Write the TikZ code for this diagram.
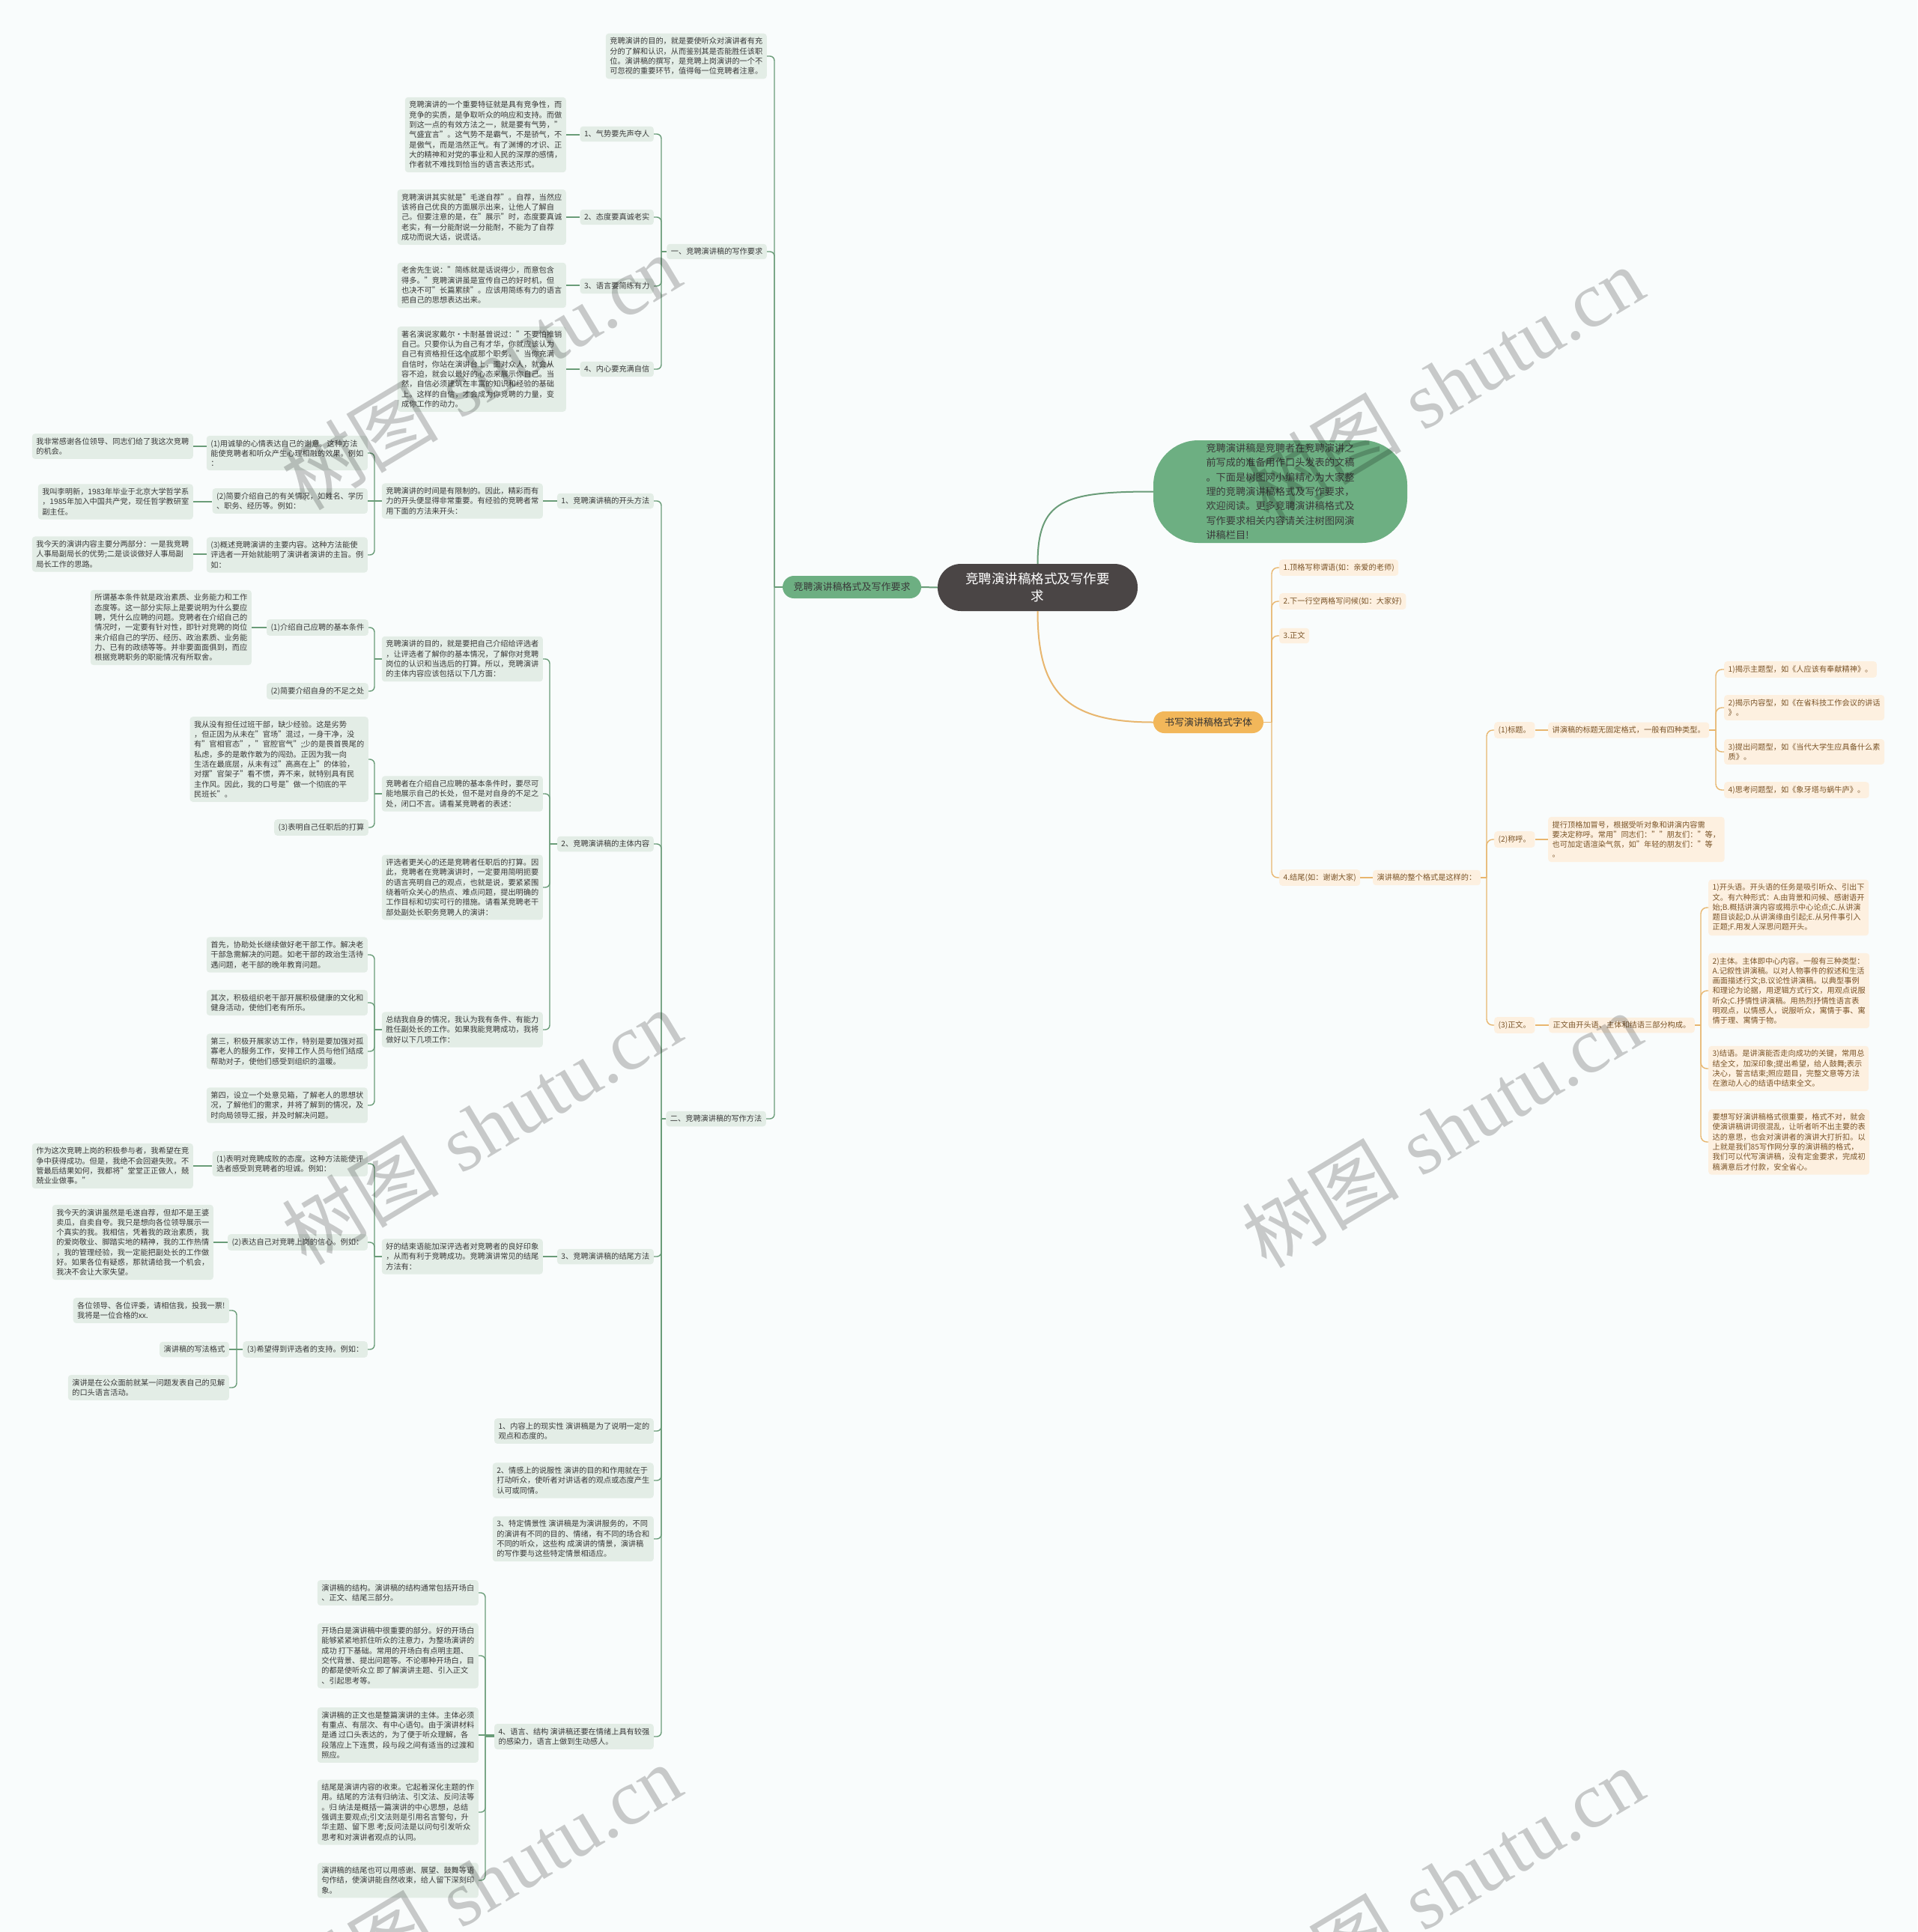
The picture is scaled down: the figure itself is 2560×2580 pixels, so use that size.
\documentclass[tikz,border=0pt]{standalone}
\usepackage{fontspec}
\setmainfont{Noto Sans CJK SC}
\newfontfamily\wmlatin{Liberation Serif}
\definecolor{bgc}{HTML}{F9FCFC}
\definecolor{gfill}{HTML}{E3EDE6}
\definecolor{gtext}{HTML}{3A3A3A}
\definecolor{gline}{HTML}{6A9C78}
\definecolor{ofill}{HTML}{FDF0E0}
\definecolor{otext}{HTML}{7A5428}
\definecolor{oline}{HTML}{E8B66E}
\definecolor{rootc}{HTML}{4A4545}
\definecolor{greenc}{HTML}{6DAF82}
\definecolor{orangec}{HTML}{F2B75A}
\newcommand\fs{\fontsize{10.2}{13.3}\selectfont}
\newcommand\lconn[3]{\draw[gl] (#1.west) -- (#1.west -| #3);\draw[gl,rounded corners=6] (#1.west -| #3) |- (#2.east);}
\newcommand\lstr[2]{\draw[gl] (#2.east) -- (#1.west |- #2.east);}
\newcommand\rconn[3]{\draw[ol] (#1.east) -- (#1.east -| #3);\draw[ol,rounded corners=8] (#1.east -| #3) |- (#2.west);}
\newcommand\rstr[2]{\draw[ol] (#1.east) -- (#2.west |- #1.east);}
\tikzset{
 gbox/.style={fill=gfill, text=gtext, rounded corners=4, inner sep=5.5, align=left, font=\fs, anchor=east},
 obox/.style={fill=ofill, text=otext, rounded corners=4, inner sep=5.5, align=left, font=\fs, anchor=west},
 gl/.style={draw=gline, line width=1.4},
 ol/.style={draw=oline, line width=1.4},
 wm/.style={text=black, text opacity=0.2, rotate=31, font=\fontsize{105}{105}\selectfont, inner sep=0},
}
\begin{document}
\begin{tikzpicture}[x=1pt,y=-1pt]
\fill[bgc] (0,0) rectangle (2560,2580);
\useasboundingbox (0,0) rectangle (2560,2580);

\coordinate (mbar) at (1034,0);
\coordinate (bA) at (883,0);
\coordinate (b500) at (500,0);
\coordinate (b734) at (734,0);
\coordinate (b316) at (316,0);
\coordinate (b648) at (648,0);
\coordinate (rb1) at (1698,0);
\coordinate (rb2) at (1985,0);
\coordinate (rb3) at (2291,0);
\coordinate (rb4) at (2271,0);

% central part
\node[fill=rootc, text=white, rounded corners=31, minimum width=267, minimum height=63, inner sep=0, align=center, font=\fontsize{17.5}{23}\selectfont] (root) at (1385.5,784.5) {竞聘演讲稿格式及写作要\\求};
\node[fill=greenc, text=gtext, rounded corners=60, minimum width=339, minimum height=137, inner sep=0, align=left, font=\fontsize{13.2}{19.4}\selectfont] (bubble) at (1709.5,656.5) {竞聘演讲稿是竞聘者在竞聘演讲之\\前写成的准备用作口头发表的文稿\\。下面是树图网小编精心为大家整\\理的竞聘演讲稿格式及写作要求，\\欢迎阅读。更多竞聘演讲稿格式及\\写作要求相关内容请关注树图网演\\讲稿栏目!};
\node[fill=greenc, text=gtext, rounded corners=15, minimum width=185, minimum height=30, inner sep=0, font=\fontsize{13}{16}\selectfont] (main) at (1137.5,784) {竞聘演讲稿格式及写作要求};
\node[fill=orangec, text=black!80, rounded corners=14.5, minimum width=147, minimum height=29, inner sep=0, font=\fontsize{13}{16}\selectfont] (orn) at (1613.5,964.5) {书写演讲稿格式字体};

\draw[gl, line width=2] (root.west) -- (main.east);
\draw[gl, line width=2] (root.north) .. controls +(0,-85) and +(-120,0) .. (bubble.west);
\draw[ol, line width=2] (root.south) .. controls +(0,105) and +(-120,0) .. (orn.west);

% left tree
\node[gbox] (top) at (1024,75) {竞聘演讲的目的，就是要使听众对演讲者有充\\分的了解和认识，从而鉴别其是否能胜任该职\\位。演讲稿的撰写，是竞聘上岗演讲的一个不\\可忽视的重要环节，值得每一位竞聘者注意。};
\node[gbox] (yi) at (1024,336) {一、竞聘演讲稿的写作要求};
\node[gbox] (er) at (1023,1494) {二、竞聘演讲稿的写作方法};

\node[gbox] (a1) at (873,179) {1、气势要先声夺人};
\node[gbox] (a2) at (873,290) {2、态度要真诚老实};
\node[gbox] (a3) at (873,382) {3、语言要简练有力};
\node[gbox] (a4) at (873,493) {4、内心要充满自信};

\node[gbox] (t1) at (756,180) {竞聘演讲的一个重要特征就是具有竞争性，而\\竞争的实质，是争取听众的响应和支持。而做\\到这一点的有效方法之一，就是要有气势，"\\气盛宜言"。这气势不是霸气，不是骄气，不\\是傲气，而是浩然正气。有了渊博的才识、正\\大的精神和对党的事业和人民的深厚的感情，\\作者就不难找到恰当的语言表达形式。};
\node[gbox] (t2) at (756,290) {竞聘演讲其实就是"毛遂自荐"。自荐，当然应\\该将自己优良的方面展示出来，让他人了解自\\己。但要注意的是，在"展示"时，态度要真诚\\老实，有一分能耐说一分能耐，不能为了自荐\\成功而说大话，说谎话。};
\node[gbox] (t3) at (756,381) {老舍先生说："简练就是话说得少，而意包含\\得多。"竞聘演讲虽是宣传自己的好时机，但\\也决不可"长篇累牍"。应该用简练有力的语言\\把自己的思想表达出来。};
\node[gbox] (t4) at (756,493) {著名演说家戴尔·卡耐基曾说过："不要怕推销\\自己。只要你认为自己有才华，你就应该认为\\自己有资格担任这个或那个职务。"当你充满\\自信时，你站在演讲台上，面对众人，就会从\\容不迫，就会以最好的心态来展示你自己。当\\然，自信必须建筑在丰富的知识和经验的基础\\上。这样的自信，才会成为你竞聘的力量，变\\成你工作的动力。};

\node[gbox] (b1) at (873,669) {1、竞聘演讲稿的开头方法};
\node[gbox] (b2) at (873,1127) {2、竞聘演讲稿的主体内容};
\node[gbox] (b3) at (873,1678) {3、竞聘演讲稿的结尾方法};
\node[gbox] (b4) at (873,1911) {1、内容上的现实性 演讲稿是为了说明一定的\\观点和态度的。};
\node[gbox] (b5) at (873,1977) {2、情感上的说服性 演讲的目的和作用就在于\\打动听众，使听者对讲话者的观点或态度产生\\认可或同情。};
\node[gbox] (b6) at (873,2055) {3、特定情景性 演讲稿是为演讲服务的，不同\\的演讲有不同的目的、情绪，有不同的场合和\\不同的听众，这些构 成演讲的情景，演讲稿\\的写作要与这些特定情景相适应。};
\node[gbox] (b7) at (873,2319) {4、语言、结构 演讲稿还要在情绪上具有较强\\的感染力，语言上做到生动感人。};

\node[gbox] (c1) at (725,669) {竞聘演讲的时间是有限制的。因此，精彩而有\\力的开头便显得非常重要。有经验的竞聘者常\\用下面的方法来开头：};
\node[gbox] (d1) at (491,605) {(1)用诚挚的心情表达自己的谢意。这种方法\\能使竞聘者和听众产生心理相融的效果。例如\\：};
\node[gbox] (d2) at (491,669) {(2)简要介绍自己的有关情况，如姓名、学历\\、职务、经历等。例如：};
\node[gbox] (d3) at (491,741) {(3)概述竞聘演讲的主要内容。这种方法能使\\评选者一开始就能明了演讲者演讲的主旨。例\\如：};
\node[gbox] (e1) at (258,596) {我非常感谢各位领导、同志们给了我这次竞聘\\的机会。};
\node[gbox] (e2) at (258,670) {我叫李明新，1983年毕业于北京大学哲学系\\，1985年加入中国共产党，现任哲学教研室\\副主任。};
\node[gbox] (e3) at (258,740) {我今天的演讲内容主要分两部分：一是我竞聘\\人事局副局长的优势;二是谈谈做好人事局副\\局长工作的思路。};

\node[gbox] (f1) at (725,880) {竞聘演讲的目的，就是要把自己介绍给评选者\\，让评选者了解你的基本情况，了解你对竞聘\\岗位的认识和当选后的打算。所以，竞聘演讲\\的主体内容应该包括以下几方面：};
\node[gbox] (f2) at (725,1060) {竞聘者在介绍自己应聘的基本条件时，要尽可\\能地展示自己的长处，但不是对自身的不足之\\处，闭口不言。请看某竞聘者的表述：};
\node[gbox] (f3) at (725,1185) {评选者更关心的还是竞聘者任职后的打算。因\\此，竞聘者在竞聘演讲时，一定要用简明扼要\\的语言亮明自己的观点，也就是说，要紧紧围\\绕着听众关心的热点、难点问题，提出明确的\\工作目标和切实可行的措施。请看某竞聘老干\\部处副处长职务竞聘人的演讲：};
\node[gbox] (f4) at (725,1375) {总结我自身的情况，我认为我有条件、有能力\\胜任副处长的工作。如果我能竞聘成功，我将\\做好以下几项工作：};
\node[gbox] (g1) at (492,838) {(1)介绍自己应聘的基本条件};
\node[gbox] (g2) at (492,923) {(2)简要介绍自身的不足之处};
\node[gbox] (g3) at (492,1014) {我从没有担任过班干部，缺少经验。这是劣势\\，但正因为从未在"官场"混过，一身干净，没\\有"官相官态"，"官腔官气";少的是畏首畏尾的\\私虑，多的是敢作敢为的闯劲。正因为我一向\\生活在最底层，从未有过"高高在上"的体验，\\对摆"官架子"看不惯，弄不来，就特别具有民\\主作风。因此，我的口号是"做一个彻底的平\\民班长"。};
\node[gbox] (g4) at (492,1105) {(3)表明自己任职后的打算};
\node[gbox] (h1) at (336,838) {所谓基本条件就是政治素质、业务能力和工作\\态度等。这一部分实际上是要说明为什么要应\\聘，凭什么应聘的问题。竞聘者在介绍自己的\\情况时，一定要有针对性，即针对竞聘的岗位\\来介绍自己的学历、经历、政治素质、业务能\\力、已有的政绩等等。并非要面面俱到，而应\\根据竞聘职务的职能情况有所取舍。};
\node[gbox] (k1) at (491,1275) {首先，协助处长继续做好老干部工作。解决老\\干部急需解决的问题。如老干部的政治生活待\\遇问题，老干部的晚年教育问题。};
\node[gbox] (k2) at (491,1339) {其次，积极组织老干部开展积极健康的文化和\\健身活动，使他们老有所乐。};
\node[gbox] (k3) at (491,1404) {第三，积极开展家访工作，特别是要加强对孤\\寡老人的服务工作，安排工作人员与他们结成\\帮助对子，使他们感受到组织的温暖。};
\node[gbox] (k4) at (491,1476) {第四，设立一个处意见箱，了解老人的思想状\\况，了解他们的需求，并将了解到的情况，及\\时向局领导汇报，并及时解决问题。};

\node[gbox] (m1) at (725,1678) {好的结束语能加深评选者对竞聘者的良好印象\\，从而有利于竞聘成功。竞聘演讲常见的结尾\\方法有：};
\node[gbox] (n1) at (491,1554) {(1)表明对竞聘成败的态度。这种方法能使评\\选者感受到竞聘者的坦诚。例如：};
\node[gbox] (n2) at (491,1659) {(2)表达自己对竞聘上岗的信心。例如：};
\node[gbox] (n3) at (491,1802) {(3)希望得到评选者的支持。例如：};
\node[gbox] (o1) at (258,1557) {作为这次竞聘上岗的积极参与者，我希望在竞\\争中获得成功。但是，我绝不会回避失败。不\\管最后结果如何，我都将"堂堂正正做人，兢\\兢业业做事。"};
\node[gbox] (o2) at (285,1659) {我今天的演讲虽然是毛遂自荐，但却不是王婆\\卖瓜，自卖自夸。我只是想向各位领导展示一\\个真实的我。我相信，凭着我的政治素质，我\\的爱岗敬业、脚踏实地的精神，我的工作热情\\，我的管理经验，我一定能把副处长的工作做\\好。如果各位有疑惑，那就请给我一个机会，\\我决不会让大家失望。};
\node[gbox] (p1) at (306,1750) {各位领导、各位评委，请相信我，投我一票!\\我将是一位合格的xx.};
\node[gbox] (p2) at (306,1802) {演讲稿的写法格式};
\node[gbox] (p3) at (306,1853) {演讲是在公众面前就某一问题发表自己的见解\\的口头语言活动。};

\node[gbox] (q1) at (639,2127) {演讲稿的结构。演讲稿的结构通常包括开场白\\、正文、结尾三部分。};
\node[gbox] (q2) at (639,2211) {开场白是演讲稿中很重要的部分。好的开场白\\能够紧紧地抓住听众的注意力，为整场演讲的\\成功 打下基础。常用的开场白有点明主题、\\交代背景、提出问题等。不论哪种开场白，目\\的都是使听众立 即了解演讲主题、引入正文\\、引起思考等。};
\node[gbox] (q3) at (639,2317) {演讲稿的正文也是整篇演讲的主体。主体必须\\有重点、有层次、有中心语句。由于演讲材料\\是通 过口头表达的，为了便于听众理解，各\\段落应上下连贯，段与段之间有适当的过渡和\\照应。};
\node[gbox] (q4) at (639,2420) {结尾是演讲内容的收束。它起着深化主题的作\\用。结尾的方法有归纳法、引文法、反问法等\\。归 纳法是概括一篇演讲的中心思想，总结\\强调主要观点;引文法则是引用名言警句，升\\华主题、留下思 考;反问法是以问句引发听众\\思考和对演讲者观点的认同。};
\node[gbox] (q5) at (639,2511) {演讲稿的结尾也可以用感谢、展望、鼓舞等语\\句作结，使演讲能自然收束，给人留下深刻印\\象。};

% left connectors
\lconn{main}{top}{mbar}
\lconn{main}{yi}{mbar}
\lconn{main}{er}{mbar}
\lconn{yi}{a1}{bA}
\lconn{yi}{a2}{bA}
\lconn{yi}{a3}{bA}
\lconn{yi}{a4}{bA}
\lstr{a1}{t1}
\lstr{a2}{t2}
\lstr{a3}{t3}
\lstr{a4}{t4}
\lconn{er}{b1}{bA}
\lconn{er}{b2}{bA}
\lconn{er}{b3}{bA}
\lconn{er}{b4}{bA}
\lconn{er}{b5}{bA}
\lconn{er}{b6}{bA}
\lconn{er}{b7}{bA}
\lstr{b1}{c1}
\lconn{c1}{d1}{b500}
\lstr{c1}{d2}
\lconn{c1}{d3}{b500}
\lstr{d1}{e1}
\lstr{d2}{e2}
\lstr{d3}{e3}
\lconn{b2}{f1}{b734}
\lconn{b2}{f2}{b734}
\lconn{b2}{f3}{b734}
\lconn{b2}{f4}{b734}
\lconn{f1}{g1}{b500}
\lconn{f1}{g2}{b500}
\lstr{g1}{h1}
\lconn{f2}{g3}{b500}
\lconn{f2}{g4}{b500}
\lconn{f4}{k1}{b500}
\lconn{f4}{k2}{b500}
\lconn{f4}{k3}{b500}
\lconn{f4}{k4}{b500}
\lstr{b3}{m1}
\lconn{m1}{n1}{b500}
\lconn{m1}{n2}{b500}
\lconn{m1}{n3}{b500}
\lstr{n1}{o1}
\lstr{n2}{o2}
\lconn{n3}{p1}{b316}
\lstr{n3}{p2}
\lconn{n3}{p3}{b316}
\lconn{b7}{q1}{b648}
\lconn{b7}{q2}{b648}
\lstr{b7}{q3}
\lconn{b7}{q4}{b648}
\lconn{b7}{q5}{b648}

% right tree
\node[obox] (R1) at (1708,758) {1.顶格写称谓语(如：亲爱的老师)};
\node[obox] (R2) at (1708,803) {2.下一行空两格写问候(如：大家好)};
\node[obox] (R3) at (1708,849) {3.正文};
\node[obox] (R4) at (1708,1172) {4.结尾(如：谢谢大家)};
\node[obox] (S) at (1833,1172) {演讲稿的整个格式是这样的：};
\node[obox] (T1) at (1995,975) {(1)标题。};
\node[obox] (T2) at (1995,1121) {(2)称呼。};
\node[obox] (T3) at (1995,1369) {(3)正文。};
\node[obox] (U1) at (2067,975) {讲演稿的标题无固定格式，一般有四种类型。};
\node[obox] (U2) at (2067,1121) {提行顶格加冒号，根据受听对象和讲演内容需\\要决定称呼。常用"同志们：""朋友们："等，\\也可加定语渲染气氛，如"年轻的朋友们："等\\。};
\node[obox] (U3) at (2068,1369) {正文由开头语、主体和结语三部分构成。};
\node[obox] (V1) at (2302,894) {1)揭示主题型，如《人应该有奉献精神》。};
\node[obox] (V2) at (2302,945) {2)揭示内容型，如《在省科技工作会议的讲话\\》。};
\node[obox] (V3) at (2302,1004) {3)提出问题型，如《当代大学生应具备什么素\\质》。};
\node[obox] (V4) at (2302,1055) {4)思考问题型，如《象牙塔与蜗牛庐》。};
\node[obox] (W1) at (2281,1212) {1)开头语。开头语的任务是吸引听众、引出下\\文。有六种形式：A.由背景和问候、感谢语开\\始;B.概括讲演内容或揭示中心论点;C.从讲演\\题目谈起;D.从讲演缘由引起;E.从另件事引入\\正题;F.用发人深思问题开头。};
\node[obox] (W2) at (2281,1323) {2)主体。主体即中心内容。一般有三种类型：\\A.记叙性讲演稿。以对人物事件的叙述和生活\\画面描述行文;B.议论性讲演稿。以典型事例\\和理论为论据，用逻辑方式行文，用观点说服\\听众;C.抒情性讲演稿。用热烈抒情性语言表\\明观点，以情感人，说服听众，寓情于事、寓\\情于理、寓情于物。};
\node[obox] (W3) at (2281,1427) {3)结语。是讲演能否走向成功的关键，常用总\\结全文，加深印象;提出希望，给人鼓舞;表示\\决心，誓言结束;照应题目，完整文意等方法\\在激动人心的结语中结束全文。};
\node[obox] (W4) at (2281,1525) {要想写好演讲稿格式很重要，格式不对，就会\\使演讲稿讲词很混乱，让听者听不出主要的表\\达的意思，也会对演讲者的演讲大打折扣。以\\上就是我们85写作网分享的演讲稿的格式，\\我们可以代写演讲稿，没有定金要求，完成初\\稿满意后才付款，安全省心。};

\rconn{orn}{R1}{rb1}
\rconn{orn}{R2}{rb1}
\rconn{orn}{R3}{rb1}
\rconn{orn}{R4}{rb1}
\rstr{R4}{S}
\rconn{S}{T1}{rb2}
\rconn{S}{T2}{rb2}
\rconn{S}{T3}{rb2}
\rstr{T1}{U1}
\rstr{T2}{U2}
\rstr{T3}{U3}
\rconn{U1}{V1}{rb3}
\rconn{U1}{V2}{rb3}
\rconn{U1}{V3}{rb3}
\rconn{U1}{V4}{rb3}
\rconn{U3}{W1}{rb4}
\rconn{U3}{W2}{rb4}
\rconn{U3}{W3}{rb4}
\rconn{U3}{W4}{rb4}

% watermarks
\node[wm] (wm1) at (642,497) {树图\hspace{30pt}{\wmlatin shutu.cn}};
\node[wm] (wm2) at (1928,513) {树图\hspace{30pt}{\wmlatin shutu.cn}};
\node[wm] (wm3) at (643,1505) {树图\hspace{30pt}{\wmlatin shutu.cn}};
\node[wm] (wm4) at (1925,1509) {树图\hspace{30pt}{\wmlatin shutu.cn}};
\node[wm] (wm5) at (643,2513) {树图\hspace{30pt}{\wmlatin shutu.cn}};
\node[wm] (wm6) at (1928,2517) {树图\hspace{30pt}{\wmlatin shutu.cn}};
\end{tikzpicture}
\end{document}
